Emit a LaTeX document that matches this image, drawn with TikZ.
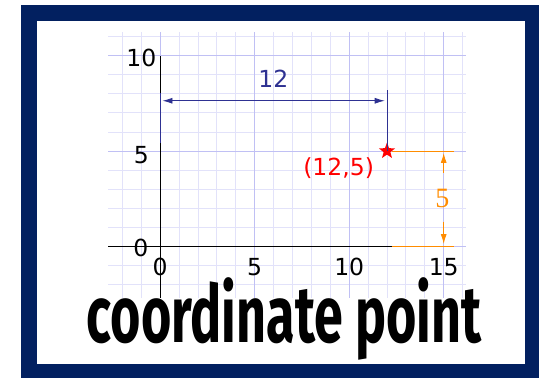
\documentclass[tikz,border=0pt]{standalone}
\usepackage{fontspec}
\setmainfont{DejaVu Sans}
\newfontfamily\titlefont{Fira Sans}
\newfontfamily\dimfont{Liberation Serif}
\usetikzlibrary{arrows.meta,shapes.geometric}
\definecolor{framenavy}{RGB}{2,32,96}
\definecolor{gridminor}{RGB}{226,226,250}
\definecolor{gridmajor}{RGB}{192,192,244}
\definecolor{dimblue}{RGB}{46,49,146}
\definecolor{dimorange}{RGB}{255,140,0}
\tikzset{
  axislabel/.style={font=\fontsize{23.5}{23.5}\selectfont},
  dimline/.style={line width=0.9pt},
  dimtip/.style={-{Latex[length=10pt,width=6pt]}},
}

\begin{document}
\begin{tikzpicture}[x=1pt,y=1pt]
  \useasboundingbox (0,0) rectangle (539,378);
  \fill[white] (0,0) rectangle (539,378);
  % frame
  \fill[framenavy] (21,0) rectangle (539,373);
  \fill[white] (37,14) rectangle (525,357);
  \begin{scope}[shift={(160.2,131.7)},x=18.9pt,y=19.05pt]
    % grid paper
    \foreach \i in {-2,...,16}{\draw[gridminor,line width=0.9pt] (\i,-2.7) -- (\i,11.25);}
    \foreach \j in {-2,...,11}{\draw[gridminor,line width=0.9pt] (-2.75,\j) -- (16.2,\j);}
    \foreach \i in {0,5,10,15}{\draw[gridmajor,line width=0.9pt] (\i,-2.7) -- (\i,11.25);}
    \foreach \j in {0,5,10}{\draw[gridmajor,line width=0.9pt] (-2.75,\j) -- (16.2,\j);}
    \coordinate (O) at (0,0);
    \coordinate (ytop) at (0,10);
    \coordinate (ybot) at (0,-2.7);
    \coordinate (xleft) at (-2.75,0);
    \coordinate (xend) at (12.26,0);
    \coordinate (xorange) at (15.53,0);
    \coordinate (p5) at (12.26,5);
    \coordinate (p5end) at (15.53,5);
    % axes
    \draw[black,line width=0.9pt] (ytop) -- (ybot);
    \draw[black,line width=0.9pt] (xleft) -- (xend);
    \draw[dimorange,line width=0.9pt] (xend) -- (xorange);
    \draw[dimorange,line width=0.9pt] (p5) -- (p5end);
    % the point
    \node[star,star points=5,star point ratio=2.4,fill=red,inner sep=0pt,minimum size=17pt] (pt) at (12,5) {};
    \node[text=red,axislabel] (ptlabel) at (9.44,4.1) {(12,5)};
    % dimension 12
    \coordinate (ext1a) at (0,8.03);
    \coordinate (ext1b) at (0,5.4);
    \coordinate (ext2a) at (12,8.2);
    \draw[dimblue,dimline] (ext1a) -- (ext1b);
    \draw[dimblue,dimline] (ext2a) -- (pt.center);
    \coordinate (d1) at (0.12,7.64);
    \coordinate (d2) at (11.88,7.64);
    \draw[dimblue,dimline,{Latex[length=10pt,width=6pt]}-{Latex[length=10pt,width=6pt]}] (d1) -- (d2);
    \node[text=dimblue,axislabel] (dimx) at (5.99,8.78) {12};
    % dimension 5
    \node[text=dimorange,font=\dimfont\fontsize{28}{28}\selectfont] (dimy) at (14.93,2.5) {5};
    \coordinate (v1) at (15,4.9);
    \coordinate (v2) at (15,3.85);
    \coordinate (v3) at (15,1.29);
    \coordinate (v4) at (15,0.12);
    \draw[dimorange,dimline,dimtip] (v2) -- (v1);
    \draw[dimorange,dimline,dimtip] (v3) -- (v4);
    % axis numbers
    \node[axislabel] (y10) at (-1.0,9.9) {10};
    \node[axislabel] (y5) at (-1.0,4.8) {5};
    \node[axislabel] (y0) at (-1.03,-0.1) {0};
    \node[axislabel] (x0) at (0,-1.08) {0};
    \node[axislabel] (x5) at (5,-1.08) {5};
    \node[axislabel] (x10) at (10,-1.08) {10};
    \node[axislabel] (x15) at (15,-1.08) {15};
  \end{scope}
  % title
  \node[anchor=base,inner sep=0pt,xscale=0.65,font=\titlefont\bfseries\fontsize{80}{80}\selectfont] (title) at (284,35) {coordinate point};
\end{tikzpicture}
\end{document}
